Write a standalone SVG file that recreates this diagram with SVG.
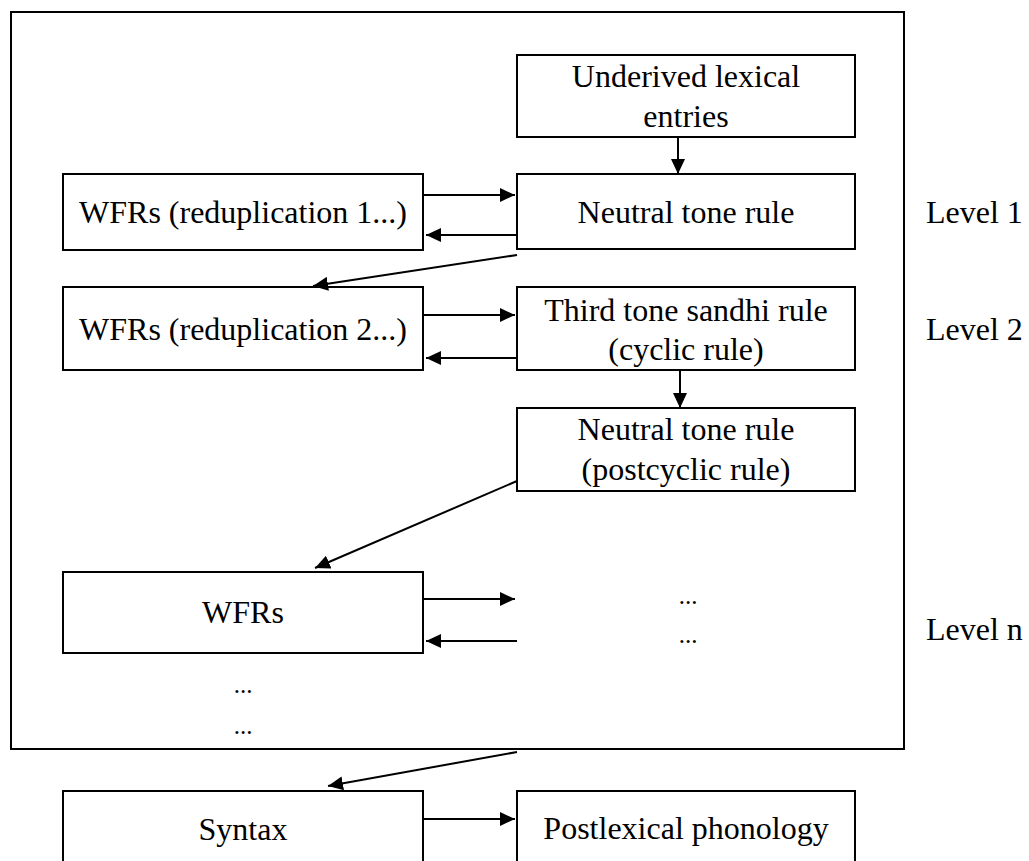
<svg xmlns="http://www.w3.org/2000/svg" width="1029" height="861" viewBox="0 0 1029 861">
  <defs>
    <style>
      .box { fill: #ffffff; stroke: #000000; stroke-width: 2; }
      .frame { fill: none; stroke: #000000; stroke-width: 2; }
      .lbl { font-family: "Liberation Serif", "Times New Roman", serif; font-size: 32px; fill: #000000; text-anchor: middle; }
      .lvl { font-family: "Liberation Serif", "Times New Roman", serif; font-size: 32px; fill: #000000; }
      .dots { font-family: "Liberation Serif", "Times New Roman", serif; font-size: 25px; fill: #000000; text-anchor: middle; }
      .edge { fill: none; stroke: #000000; stroke-width: 2; marker-end: url(#head); }
    </style>
    <marker id="head" markerUnits="userSpaceOnUse" markerWidth="16" markerHeight="14" refX="15" refY="7" orient="auto">
      <path d="M0,0 L15,7 L0,14 z" fill="#000000"/>
    </marker>
  </defs>

  <rect width="1029" height="861" fill="#ffffff"/>

  <!-- lexicon frame -->
  <rect id="lexicon" class="frame" x="11" y="12" width="893" height="737"/>

  <g id="underived">
    <rect class="box" x="517" y="55" width="338" height="82"/>
    <text class="lbl" x="686" y="87">Underived lexical</text>
    <text class="lbl" x="686" y="127">entries</text>
  </g>

  <g id="wfr1">
    <rect class="box" x="63" y="174" width="360" height="76"/>
    <text class="lbl" x="243" y="223">WFRs (reduplication 1...)</text>
  </g>

  <g id="neutral1">
    <rect class="box" x="517" y="174" width="338" height="75"/>
    <text class="lbl" x="686" y="223">Neutral tone rule</text>
  </g>

  <g id="wfr2">
    <rect class="box" x="63" y="287" width="360" height="83"/>
    <text class="lbl" x="243" y="340">WFRs (reduplication 2...)</text>
  </g>

  <g id="sandhi">
    <rect class="box" x="517" y="287" width="338" height="83"/>
    <text class="lbl" x="686" y="321">Third tone sandhi rule</text>
    <text class="lbl" x="686" y="360">(cyclic rule)</text>
  </g>

  <g id="neutral2">
    <rect class="box" x="517" y="408" width="338" height="83"/>
    <text class="lbl" x="686" y="440">Neutral tone rule</text>
    <text class="lbl" x="686" y="480">(postcyclic rule)</text>
  </g>

  <g id="wfrn">
    <rect class="box" x="63" y="572" width="360" height="81"/>
    <text class="lbl" x="243" y="623">WFRs</text>
  </g>

  <g id="rulesn">
    <text class="dots" x="688" y="604">...</text>
    <text class="dots" x="688" y="643">...</text>
  </g>

  <g id="more">
    <text class="dots" x="243" y="693">...</text>
    <text class="dots" x="243" y="734">...</text>
  </g>

  <g id="syntax">
    <rect class="box" x="63" y="791" width="360" height="80"/>
    <text class="lbl" x="243" y="840">Syntax</text>
  </g>

  <g id="postlexical">
    <rect class="box" x="517" y="791" width="338" height="80"/>
    <text class="lbl" x="686" y="839">Postlexical phonology</text>
  </g>

  <g id="levels">
    <text class="lvl" x="926" y="223">Level 1</text>
    <text class="lvl" x="926" y="340">Level 2</text>
    <text class="lvl" x="926" y="640">Level n</text>
  </g>

  <g id="connectors">
    <line class="edge" x1="678" y1="137" x2="678" y2="174"/>
    <line class="edge" x1="423" y1="195" x2="515" y2="195"/>
    <line class="edge" x1="517" y1="235" x2="426" y2="235"/>
    <line class="edge" x1="517" y1="255" x2="313" y2="286"/>
    <line class="edge" x1="423" y1="315" x2="515" y2="315"/>
    <line class="edge" x1="517" y1="358" x2="426" y2="358"/>
    <line class="edge" x1="680" y1="370" x2="680" y2="408"/>
    <line class="edge" x1="517" y1="481" x2="315" y2="568"/>
    <line class="edge" x1="423" y1="599" x2="515" y2="599"/>
    <line class="edge" x1="517" y1="641" x2="426" y2="641"/>
    <line class="edge" x1="517" y1="752" x2="328" y2="786"/>
    <line class="edge" x1="423" y1="819" x2="515" y2="819"/>
  </g>
</svg>
